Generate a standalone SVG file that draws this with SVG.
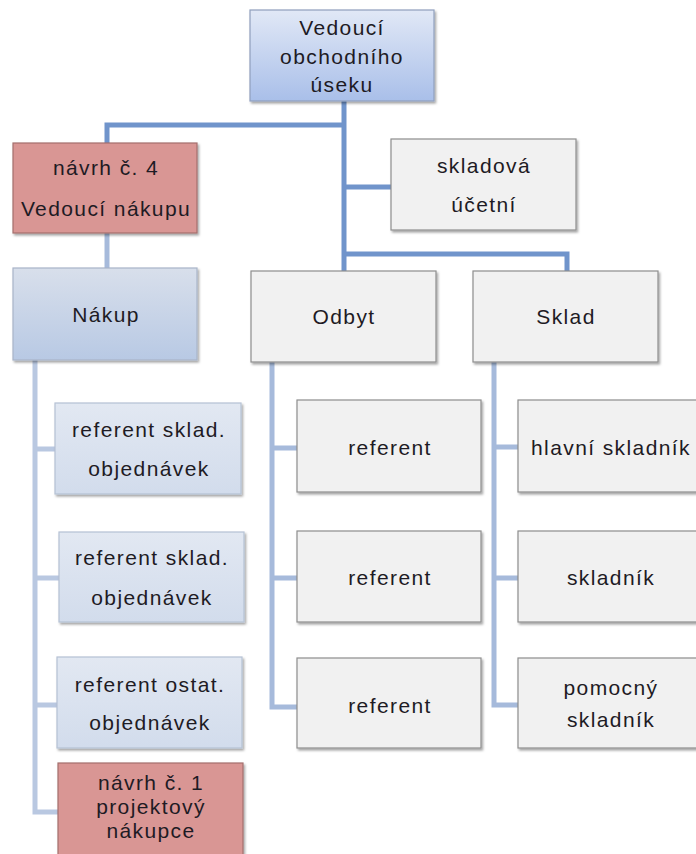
<svg xmlns="http://www.w3.org/2000/svg" width="696" height="854" viewBox="0 0 696 854">
<defs>
<linearGradient id="gTop" x1="0" y1="0" x2="0" y2="1"><stop offset="0" stop-color="#e1e8f6"/><stop offset="1" stop-color="#a9bfe9"/></linearGradient>
<linearGradient id="gNakup" x1="0" y1="0" x2="0" y2="1"><stop offset="0" stop-color="#d8dfeb"/><stop offset="1" stop-color="#b8c9e4"/></linearGradient>
<linearGradient id="gRef" x1="0" y1="0" x2="0" y2="1"><stop offset="0" stop-color="#e2e8f2"/><stop offset="1" stop-color="#d2dcec"/></linearGradient>
<filter id="sh" x="-10%" y="-10%" width="125%" height="130%"><feDropShadow dx="1.5" dy="2" stdDeviation="1.2" flood-color="#000" flood-opacity="0.35"/></filter>
</defs>
<style>
.box{stroke-width:1.2;filter:url(#sh)}
.gray{fill:#f1f1f1;stroke:#8e8e8e}
.red{fill:#d99694;stroke:#a46f6d}
.top{fill:url(#gTop);stroke:#8f9fbd}
.nak{fill:url(#gNakup);stroke:#a8b4c8}
.ref{fill:url(#gRef);stroke:#b5c1d4}
text{font-family:"Liberation Sans",Arial,sans-serif;font-size:21px;letter-spacing:1.4px;fill:#1e1b24;text-anchor:middle}
.c1{fill:none;stroke:#7094cb;stroke-width:5}
.c2{fill:none;stroke:#a6badb;stroke-width:5}
.c3{fill:none;stroke:#b9c8e1;stroke-width:5}
</style>
<rect width="696" height="854" fill="#ffffff"/>
<g id="connectors">
<path class="c1" d="M344,100 V271 M344,125 H107 V143 M344,187 H391 M344,254 H567 V271"/>
<path class="c2" d="M107,233 V268"/>
<path class="c3" d="M35,360 V812 H58 M35,449 H56 M35,578 H60 M35,705 H58"/>
<path class="c2" d="M272,362 V707 H297 M272,448 H297 M272,578 H297"/>
<path class="c2" d="M494,362 V705 H518 M494,447 H518 M494,578 H518"/>
</g>
<g id="n-top"><rect class="box top" x="250" y="10" width="184" height="91"/><text x="342" y="35">Vedoucí</text><text x="342" y="64">obchodního</text><text x="342" y="92">úseku</text></g>
<g id="n-navrh4"><rect class="box red" x="13" y="143" width="184" height="90"/><text x="106" y="175">návrh č. 4</text><text x="106" y="216">Vedoucí nákupu</text></g>
<g id="n-skladova"><rect class="box gray" x="391" y="139" width="185" height="91"/><text x="484" y="173">skladová</text><text x="484" y="212">účetní</text></g>
<g id="n-nakup"><rect class="box nak" x="13" y="268" width="184" height="92"/><text x="106" y="322">Nákup</text></g>
<g id="n-odbyt"><rect class="box gray" x="251" y="271" width="185" height="91"/><text x="344" y="324">Odbyt</text></g>
<g id="n-sklad"><rect class="box gray" x="473" y="271" width="185" height="91"/><text x="566" y="324">Sklad</text></g>
<g id="n-ref1"><rect class="box ref" x="55" y="403" width="186" height="91"/><text x="149" y="437">referent sklad.</text><text x="149" y="476">objednávek</text></g>
<g id="n-ref2"><rect class="box ref" x="59" y="532" width="185" height="90"/><text x="152" y="565">referent sklad.</text><text x="152" y="605">objednávek</text></g>
<g id="n-ref3"><rect class="box ref" x="57" y="657" width="185" height="91"/><text x="150" y="692">referent ostat.</text><text x="150" y="730">objednávek</text></g>
<g id="n-navrh1"><rect class="box red" x="58" y="763" width="185" height="100"/><text x="151" y="790">návrh č. 1</text><text x="151" y="814">projektový</text><text x="151" y="838">nákupce</text></g>
<g id="n-odb1"><rect class="box gray" x="297" y="400" width="184" height="92"/><text x="390" y="455">referent</text></g>
<g id="n-odb2"><rect class="box gray" x="297" y="531" width="184" height="91"/><text x="390" y="585">referent</text></g>
<g id="n-odb3"><rect class="box gray" x="297" y="658" width="184" height="90"/><text x="390" y="713">referent</text></g>
<g id="n-skl1"><rect class="box gray" x="518" y="400" width="184" height="92"/><text x="611" y="455">hlavní skladník</text></g>
<g id="n-skl2"><rect class="box gray" x="518" y="531" width="184" height="91"/><text x="611" y="585">skladník</text></g>
<g id="n-skl3"><rect class="box gray" x="518" y="658" width="184" height="90"/><text x="611" y="695">pomocný</text><text x="611" y="727">skladník</text></g>
</svg>
